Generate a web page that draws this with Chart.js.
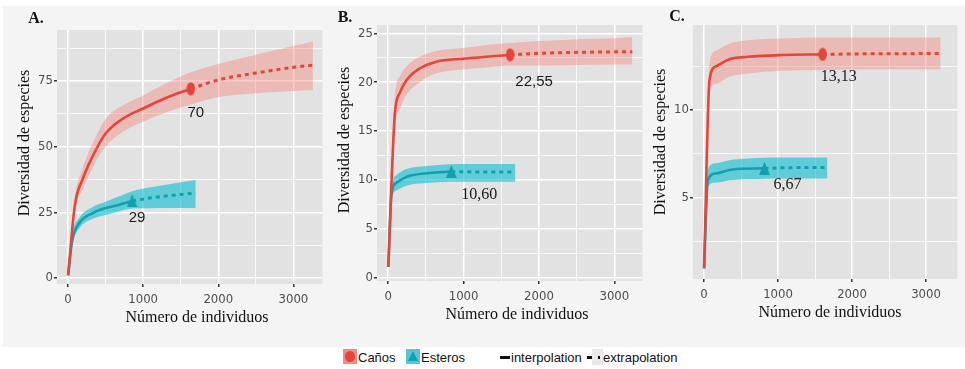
<!DOCTYPE html>
<html lang="es">
<head>
<meta charset="utf-8">
<title>Curvas de rarefacción</title>
<script src="https://cdn.jsdelivr.net/npm/chart.js@4.4.1/dist/chart.umd.min.js"></script>
<style>
  html, body { margin: 0; padding: 0; background: #fff; }
  #lienzo { position: relative; width: 965px; height: 369px; overflow: hidden; }
  #fondo { position: absolute; left: 3px; top: 6px; width: 962px; height: 341px; background: #f4f4f4; }
  canvas { position: absolute; top: 0; }
  #leyenda { position: absolute; left: 0; top: 349px; width: 965px; height: 18px; font: 13px "Liberation Sans", Arial, sans-serif; color: #111; }
  .ley { position: absolute; top: 0; line-height: 17px; white-space: nowrap; }
  .caja { position: absolute; top: 0; width: 14px; height: 15px; }
  .circulo { position: absolute; left: 2px; top: 2px; width: 10px; height: 11px; border-radius: 50%; background: #e3463a; }
  .triangulo { position: absolute; left: 2px; top: 2px; width: 0; height: 0; border-left: 5px solid transparent; border-right: 5px solid transparent; border-bottom: 10px solid #12a0ae; }
</style>
</head>
<body>
<div id="lienzo">
  <div id="fondo"></div>
  <canvas id="panelA" width="330" height="340" style="left:0px"></canvas>
  <canvas id="panelB" width="320" height="340" style="left:330px"></canvas>
  <canvas id="panelC" width="315" height="340" style="left:650px"></canvas>
  <div id="leyenda">
    <div class="caja" style="left:343px;background:#f08c84"><span class="circulo"></span></div>
    <span class="ley" style="left:358px">Caños</span>
    <div class="caja" style="left:406px;background:#56c6d5"><span class="triangulo"></span></div>
    <span class="ley" style="left:421px">Esteros</span>
    <div style="position:absolute;left:500px;top:7px;width:10px;height:3px;background:#111"></div>
    <span class="ley" style="left:511px">interpolation</span>
    <div style="position:absolute;left:587px;top:7px;width:5px;height:3px;background:#111"></div>
    <div style="position:absolute;left:592px;top:0px;width:11px;height:16px;background:#e9e9e9"></div>
    <div style="position:absolute;left:598px;top:7px;width:2px;height:3px;background:#111"></div>
    <span class="ley" style="left:603px">extrapolation</span>
  </div>
</div>
<script>
// ---- DATOS ----
const marcasX = [0, 500, 1000, 1500, 2000, 2500, 3000];
const etiquetasX = ['0', '', '1000', '', '2000', '', '3000'];

// A.
const marcasYA = [0, 12.5, 25, 37.5, 50, 62.5, 75, 87.5];
const etiquetasYA = ['0', '', '25', '', '50', '', '75', ''];

const xCanosA = [1, 90, 200, 375, 500, 750, 1000, 1300, 1634];
const yCanosA = [1, 27.5, 38, 49, 55, 61, 64.5, 68.5, 72];
const xCanosA_ext = [1634, 2000, 2500, 3000, 3260];
const yCanosA_ext = [72, 75.4, 78, 80.2, 81];
const supCanosA = [1, 30, 42, 54, 60.5, 66, 69.5, 74, 78.3, 81.5, 85, 88.3, 90];
const infCanosA = [1, 25, 34, 44.5, 50, 56, 59.5, 63, 66, 68.8, 70.3, 71.2, 71.6];

const xEsterosA = [1, 57, 153, 330, 500, 675, 853];
const yEsterosA = [1, 14.5, 21, 24.7, 26.6, 27.8, 29.3];
const xEsterosA_ext = [853, 1100, 1400, 1700];
const yEsterosA_ext = [29.3, 30.5, 31.5, 32.3];
const supEsterosA = [1, 16.5, 23, 27, 29, 31, 33, 34.5, 36, 37.3];
const infEsterosA = [1, 12.5, 19, 22.5, 24, 25.3, 26.4, 26.5, 26.6, 26.6];

// B.
const marcasYB = [0, 2.5, 5, 7.5, 10, 12.5, 15, 17.5, 20, 22.5, 25];
const etiquetasYB = ['0', '', '5', '', '10', '', '15', '', '20', '', '25'];

const xCanosB = [1, 88, 154, 242, 418, 639, 1000, 1300, 1617];
const yCanosB = [1.1, 16.8, 18.9, 20.2, 21.4, 22.1, 22.4, 22.6, 22.8];
const xCanosB_ext = [1617, 2000, 2500, 3000, 3238];
const yCanosB_ext = [22.8, 22.95, 23.05, 23.1, 23.12];
const supCanosB = [1.1, 18.5, 20.6, 21.6, 22.6, 23.2, 23.5, 23.8, 24.0, 24.2, 24.4, 24.5, 24.6];
const infCanosB = [1.1, 15.2, 17.2, 18.7, 20.0, 20.9, 21.3, 21.5, 21.7, 21.7, 21.75, 21.8, 21.8];

const xEsterosB = [1, 44, 110, 242, 551, 837];
const yEsterosB = [1.1, 8.6, 9.7, 10.3, 10.7, 10.85];
const xEsterosB_ext = [837, 1100, 1400, 1687];
const yEsterosB_ext = [10.85, 10.82, 10.8, 10.8];
const supEsterosB = [1.1, 9.3, 10.5, 11.1, 11.45, 11.6, 11.62, 11.63, 11.63];
const infEsterosB = [1.1, 7.9, 8.9, 9.4, 9.7, 9.8, 9.8, 9.82, 9.82];

// C.
const marcasYC = [2.5, 5, 7.5, 10, 12.5];
const etiquetasYC = ['', '5', '', '10', ''];

const xCanosC = [1, 74, 162, 336, 598, 1035, 1603];
const yCanosC = [0.94, 11.7, 12.5, 12.9, 13.05, 13.15, 13.19];
const xCanosC_ext = [1603, 2200, 2800, 3197];
const yCanosC_ext = [13.19, 13.22, 13.23, 13.24];
const supCanosC = [0.94, 12.6, 13.4, 13.8, 14.0, 14.1, 14.15, 14.16, 14.16, 14.16];
const infCanosC = [0.94, 11.0, 11.5, 11.9, 12.1, 12.25, 12.3, 12.33, 12.33, 12.33];

const xEsterosC = [1, 52, 162, 380, 817];
const yEsterosC = [0.94, 6.0, 6.37, 6.6, 6.66];
const xEsterosC_ext = [817, 1100, 1400, 1668];
const yEsterosC_ext = [6.66, 6.7, 6.71, 6.72];
const supEsterosC = [0.94, 6.6, 6.95, 7.15, 7.27, 7.29, 7.29, 7.29];
const infEsterosC = [0.94, 5.6, 5.85, 6.0, 6.07, 6.09, 6.09, 6.09];

// valores observados (etiquetas)
const etiquetasA = ['70', '29'];
const etiquetasB = ['22,55', '10,60'];
const etiquetasC = ['13,13', '6,67'];

const tituloX = 'Número de individuos';
const tituloY = 'Diversidad de especies';

// ---- ESTILO ----
const ROJO = '#e3463a', ROJO_BANDA = 'rgba(246,120,110,0.38)';
const TEAL = '#13a0ae', TEAL_BANDA = 'rgba(0,188,206,0.58)';
const SERIF = '"Liberation Serif", "Times New Roman", serif';
const SANS = '"Liberation Sans", Arial, sans-serif';
const NARROW = '"Liberation Sans Narrow", "DejaVu Sans Condensed", sans-serif';

function marcador(tipo, color) {
    const c = document.createElement('canvas');
    if (tipo === 'elipse') {
        c.width = 9; c.height = 14;
        const g = c.getContext('2d');
        g.fillStyle = color; g.beginPath(); g.ellipse(4.5, 7, 4.2, 6.6, 0, 0, Math.PI * 2); g.fill();
    } else {
        c.width = 11; c.height = 13;
        const g = c.getContext('2d');
        g.fillStyle = color; g.beginPath(); g.moveTo(5.5, 0); g.lineTo(11, 13); g.lineTo(0, 13); g.closePath(); g.fill();
    }
    return c;
}
const elipseRoja = marcador('elipse', ROJO);
const trianguloTeal = marcador('triangulo', TEAL);

const puntos = (xs, ys) => xs.map((x, i) => ({ x: x, y: ys[i] }));

function series(x, y, xe, ye, sup, inf, color, banda, icono) {
    const xs = x.concat(xe.slice(1));
    const n = x.length;
    return [
        { data: puntos(xs, sup), fill: '+1', backgroundColor: banda, borderWidth: 0, pointRadius: 0, order: 3 },
        { data: puntos(xs, inf), fill: false, borderWidth: 0, pointRadius: 0, order: 3 },
        { data: puntos(x, y), borderColor: color, borderWidth: 2.6, fill: false, order: 1,
          pointStyle: icono, pointRadius: c => c.dataIndex === n - 1 ? 5 : 0 },
        { data: puntos(xe, ye), borderColor: color, borderWidth: 3, borderDash: [4, 4], borderCapStyle: 'butt', fill: false, pointRadius: 0, order: 2 }
    ];
}

const fondoPanel = {
    id: 'fondoPanel',
    beforeDraw(chart) {
        const { ctx, chartArea: a } = chart;
        ctx.save();
        ctx.fillStyle = '#e2e2e2';
        ctx.fillRect(a.left, a.top, a.width, a.height);
        ctx.restore();
    }
};

const textos = {
    id: 'textos',
    afterDraw(chart, args, o) {
        const ctx = chart.ctx;
        ctx.save();
        ctx.fillStyle = '#111';
        ctx.textAlign = 'center';
        ctx.textBaseline = 'middle';
        ctx.font = 'bold 16px ' + SERIF;
        ctx.fillText(o.letra, o.letraPos[0], o.letraPos[1]);
        ctx.font = '16px ' + SERIF;
        ctx.fillText(tituloX, o.xTit[0], o.xTit[1]);
        ctx.save();
        ctx.translate(o.yTit[0], o.yTit[1]);
        ctx.rotate(-Math.PI / 2);
        ctx.fillText(tituloY, 0, 0);
        ctx.restore();
        // etiquetas junto al último punto interpolado
        o.etiquetas.forEach((et, k) => {
            const meta = chart.getDatasetMeta(k === 0 ? 2 : 6);
            const p = meta.data[meta.data.length - 1];
            ctx.font = et.fuente;
            ctx.fillStyle = '#1a1a1a';
            ctx.fillText(et.texto, p.x + et.dx, p.y + et.dy);
        });
        ctx.restore();
    }
};

function ejeLineal(marcas, etiquetas, min, max, tamFijo, ticksExtra) {
    const esMayor = v => etiquetas[marcas.indexOf(v)] !== '';
    return {
        type: 'linear', min: min, max: max,
        afterBuildTicks: s => { s.ticks = marcas.map(v => ({ value: v })); },
        afterFit: tamFijo,
        border: { display: false },
        grid: {
            color: '#ffffff', tickLength: 3,
            lineWidth: c => esMayor(c.tick.value) ? 1.5 : 0.8,
            tickColor: c => esMayor(c.tick.value) ? '#333' : 'rgba(0,0,0,0)'
        },
        ticks: Object.assign({
            autoSkip: false, color: '#4d4d4d', font: { family: NARROW, size: 13 },
            callback: v => etiquetas[marcas.indexOf(v)] || ''
        }, ticksExtra)
    };
}

function crearPanel(id, cfg) {
    new Chart(document.getElementById(id), {
        type: 'line',
        data: { datasets: cfg.datasets },
        options: {
            responsive: false, animation: false, events: [],
            layout: { padding: { left: 0, top: cfg.top, right: cfg.right, bottom: 0 } },
            elements: { line: { cubicInterpolationMode: 'monotone' } },
            plugins: { legend: { display: false }, tooltip: { enabled: false }, textos: cfg.textos },
            scales: {
                x: ejeLineal(marcasX, etiquetasX, cfg.xMin, cfg.xMax, s => { s.height = cfg.altoX; }, { maxRotation: 0, padding: 5 }),
                y: ejeLineal(cfg.marcasY, cfg.etiquetasY, cfg.yMin, cfg.yMax, s => { s.width = cfg.anchoY; }, { padding: 1 })
            }
        },
        plugins: [fondoPanel, textos]
    });
}

crearPanel('panelA', {
    datasets: [].concat(
        series(xCanosA, yCanosA, xCanosA_ext, yCanosA_ext, supCanosA, infCanosA, ROJO, ROJO_BANDA, elipseRoja),
        series(xEsterosA, yEsterosA, xEsterosA_ext, yEsterosA_ext, supEsterosA, infEsterosA, TEAL, TEAL_BANDA, trianguloTeal)),
    marcasY: marcasYA, etiquetasY: etiquetasYA,
    top: 30, right: 2, altoX: 56, anchoY: 57,
    xMin: -147, xMax: 3386, yMin: -2.3, yMax: 94.4,
    textos: {
        letra: 'A.', letraPos: [36, 19], xTit: [197, 318], yTit: [25, 143],
        etiquetas: [
            { texto: etiquetasA[0], dx: 5, dy: 24, fuente: '15px ' + SANS },
            { texto: etiquetasA[1], dx: 5, dy: 17, fuente: '15px ' + SANS }
        ]
    }
});

crearPanel('panelB', {
    datasets: [].concat(
        series(xCanosB, yCanosB, xCanosB_ext, yCanosB_ext, supCanosB, infCanosB, ROJO, ROJO_BANDA, elipseRoja),
        series(xEsterosB, yEsterosB, xEsterosB_ext, yEsterosB_ext, supEsterosB, infEsterosB, TEAL, TEAL_BANDA, trianguloTeal)),
    marcasY: marcasYB, etiquetasY: etiquetasYB,
    top: 25, right: 5, altoX: 59, anchoY: 47,
    xMin: -149, xMax: 3372, yMin: -0.35, yMax: 25.85,
    textos: {
        letra: 'B.', letraPos: [15, 18], xTit: [187, 315], yTit: [15, 140],
        etiquetas: [
            { texto: etiquetasB[0], dx: 24, dy: 27, fuente: '15px ' + SANS },
            { texto: etiquetasB[1], dx: 28, dy: 23, fuente: '16px ' + SERIF }
        ]
    }
});

crearPanel('panelC', {
    datasets: [].concat(
        series(xCanosC, yCanosC, xCanosC_ext, yCanosC_ext, supCanosC, infCanosC, ROJO, ROJO_BANDA, elipseRoja),
        series(xEsterosC, yEsterosC, xEsterosC_ext, yEsterosC_ext, supEsterosC, infEsterosC, TEAL, TEAL_BANDA, trianguloTeal)),
    marcasY: marcasYC, etiquetasY: etiquetasYC,
    top: 25, right: 0, altoX: 61, anchoY: 43,
    xMin: -149, xMax: 3424, yMin: 0.33, yMax: 14.87,
    textos: {
        letra: 'C.', letraPos: [27, 17], xTit: [180, 313], yTit: [11, 142],
        etiquetas: [
            { texto: etiquetasC[0], dx: 16, dy: 22, fuente: '16px ' + SERIF },
            { texto: etiquetasC[1], dx: 23, dy: 16, fuente: '16px ' + SERIF }
        ]
    }
});
</script>
</body>
</html>
